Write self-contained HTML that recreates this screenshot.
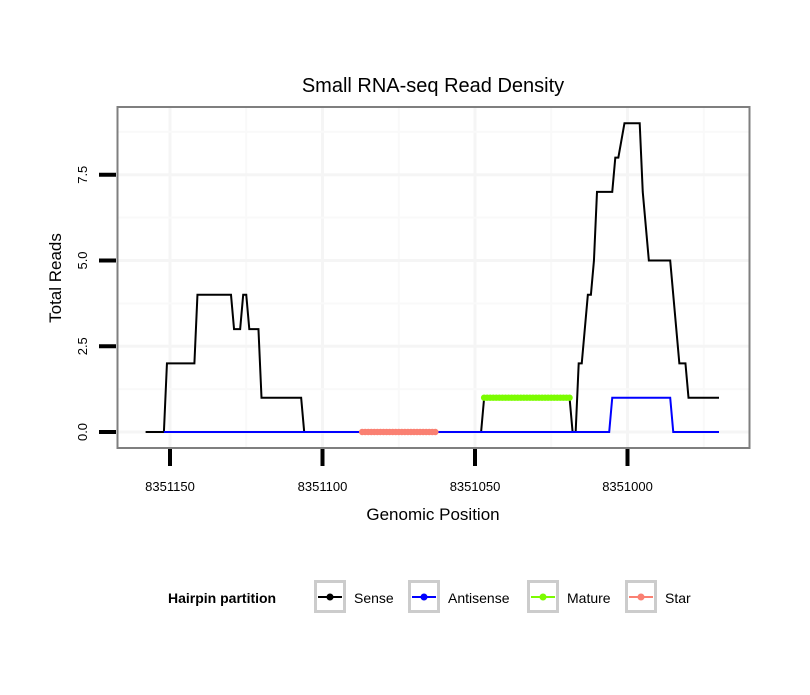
<!DOCTYPE html>
<html><head><meta charset="utf-8"><style>
body{margin:0;background:#fff;}
svg text{font-family:"Liberation Sans",sans-serif;}
</style></head><body>
<svg id="chart" width="810" height="690" xmlns="http://www.w3.org/2000/svg">
<rect width="810" height="690" fill="#fff"/>
<text x="433" y="92" font-size="20" text-anchor="middle">Small RNA-seq Read Density</text>
<g id="grid"></g>
<g id="series"></g>
<rect x="117.5" y="107" width="632" height="341" fill="none" stroke="#7f7f7f" stroke-width="2"/>
<g id="axes"></g>
<text x="433" y="520" font-size="17" text-anchor="middle">Genomic Position</text>
<text transform="translate(61,278) rotate(-90)" font-size="17" text-anchor="middle">Total Reads</text>
<g>
<text x="168" y="603" font-size="14" font-weight="bold">Hairpin partition</text>
<g id="legend-keys"></g>
</g>
</svg>
<script>
const senseX=[8351158,8351152,8351151,8351142,8351141,8351130,8351129,8351127,8351126,8351125,8351124,8351121,8351120,8351107,8351106,8351048,8351047,8351019,8351018,8351017,8351016,8351015,8351013,8351012,8351011,8351010,8351005,8351004,8351003,8351001,8350996,8350995,8350993,8350986,8350983,8350981,8350980,8350970];
const senseY=[0,0,2,2,4,4,3,3,4,4,3,3,1,1,0,0,1,1,0,0,2,2,4,4,5,7,7,8,8,9,9,7,5,5,2,2,1,1];
const antiX=[8351152,8351006,8351005,8350986,8350985,8350970];
const antiY=[0,0,1,1,0,0];
const matureStart=8351047, matureEnd=8351019, matureValue=1;
const starStart=8351087, starEnd=8351063, starValue=0;
const xTicks=[8351150,8351100,8351050,8351000];
const yTicks=[0,2.5,5,7.5];
const yTickLabels=["0.0","2.5","5.0","7.5"];
const legendLabels=["Sense","Antisense","Mature","Star"];
const legendColors=["#000000","#0000ff","#7cfc00","#fa8072"];

const NS="http://www.w3.org/2000/svg";
function xs(p){return 170+(8351150-p)*3.05;}
function ys(v){return 432-v*34.3;}
function mk(tag,attrs,parent){const e=document.createElementNS(NS,tag);for(const k in attrs)e.setAttribute(k,attrs[k]);parent.appendChild(e);return e;}
const grid=document.getElementById('grid'),series=document.getElementById('series'),axes=document.getElementById('axes');
function inX(x){return x>118&&x<750;}
for(let i=0;i<xTicks.length;i++){
  const x=xs(xTicks[i]);
  const g=mk('line',{x1:x,x2:x,y1:107,y2:448,stroke:'#f5f5f5','stroke-width':3},grid);
  
  
  for(const d of [-25,25]){
    const xm=xs(xTicks[i]+d);
    if(inX(xm)&&!(d===25&&i>0)){
      const m=mk('line',{x1:xm,x2:xm,y1:107,y2:448,stroke:'#f9f9f9','stroke-width':2},grid);
      
      
    }
  }
}
for(let i=0;i<yTicks.length;i++){
  const y=ys(yTicks[i]);
  const g=mk('line',{x1:118,x2:750,y1:y,y2:y,stroke:'#f5f5f5','stroke-width':3},grid);
  
  
  const ym=ys(yTicks[i]+1.25);
  const m=mk('line',{x1:118,x2:750,y1:ym,y2:ym,stroke:'#f9f9f9','stroke-width':2},grid);
  
  
}
function pts(X,Y){return X.map((x,i)=>xs(x)+','+ys(Y[i])).join(' ');}
const sl=mk('polyline',{points:pts(senseX,senseY),fill:'none',stroke:'#000','stroke-width':2},series);


const al=mk('polyline',{points:pts(antiX,antiY),fill:'none',stroke:'#0000ff','stroke-width':2},series);


function segment(a,b,v,color,name){
  const l=mk('line',{x1:xs(a),x2:xs(b),y1:ys(v),y2:ys(v),stroke:color,'stroke-width':2},series);
  
  
  for(let p=a;p>=b;p--){
    const c=mk('circle',{cx:xs(p),cy:ys(v),r:3.2,fill:color},series);
    
    
  }
}
segment(matureStart,matureEnd,matureValue,'#7cfc00','mature');
segment(starStart,starEnd,starValue,'#fa8072','star');
for(let i=0;i<xTicks.length;i++){
  const x=xs(xTicks[i]);
  const t=mk('line',{x1:x,x2:x,y1:449,y2:466,stroke:'#000','stroke-width':4},axes);
  
  
  const l=mk('text',{x:x,y:491,'font-size':13,'text-anchor':'middle'},axes);
  l.textContent=xTicks[i];
  
  
}
for(let i=0;i<yTicks.length;i++){
  const y=ys(yTicks[i]);
  const t=mk('line',{x1:99,x2:116,y1:y,y2:y,stroke:'#000','stroke-width':4},axes);
  
  
  const l=mk('text',{transform:'translate(87,'+y+') rotate(-90)','font-size':13,'text-anchor':'middle'},axes);
  l.textContent=yTickLabels[i];
  
  
}
const lk=document.getElementById('legend-keys');
const keyX=[314,408,527,625];
for(let i=0;i<legendLabels.length;i++){
  const x=keyX[i];
  const b=mk('rect',{x:x+1.5,y:581.5,width:29,height:30,fill:'#fff',stroke:'#cccccc','stroke-width':3},lk);
  
  
  const l=mk('line',{x1:x+4,x2:x+28,y1:597,y2:597,stroke:legendColors[i],'stroke-width':2},lk);
  
  
  const c=mk('circle',{cx:x+16,cy:597,r:3.5,fill:legendColors[i]},lk);
  
  
  const t=mk('text',{x:x+40,y:603,'font-size':14},lk);
  t.textContent=legendLabels[i];
  
  
}
</script>
</body></html>
